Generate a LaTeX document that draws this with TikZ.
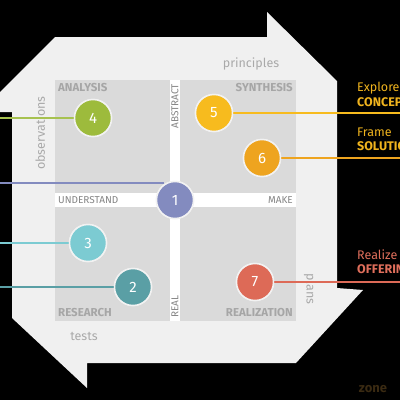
\documentclass[tikz,border=0pt]{standalone}
\usepackage{fontspec}
\setmainfont{Fira Sans}
\definecolor{shapefill}{HTML}{F0F0F0}
\definecolor{boxfill}{HTML}{DADADA}
\definecolor{boxlbl}{HTML}{A6A6A6}
\definecolor{outlbl}{HTML}{A9A9A9}
\definecolor{bandlbl}{HTML}{858585}
\definecolor{cfour}{HTML}{9DBB3C}
\definecolor{cone}{HTML}{838BBF}
\definecolor{cthree}{HTML}{7CCBD2}
\definecolor{ctwo}{HTML}{5A9FA5}
\definecolor{cfive}{HTML}{F7BB1E}
\definecolor{csix}{HTML}{EEA41F}
\definecolor{cseven}{HTML}{DD6A57}
\definecolor{goldtxt}{HTML}{F0B41E}
\definecolor{coraltxt}{HTML}{E06F5C}
\definecolor{zonetxt}{HTML}{3A2A12}
\begin{document}
\begin{tikzpicture}[x=1pt,y=-1pt,
  boxlabel/.style={font=\bfseries\fontsize{11.5}{13}\selectfont, text=boxlbl, inner sep=0},
  bandlabel/.style={font=\fontsize{10}{11}\selectfont, text=bandlbl, inner sep=0},
  outlabel/.style={font=\fontsize{12.5}{14}\selectfont, text=outlbl, inner sep=0},
  num/.style={circle, minimum size=37pt, inner sep=0, draw=white!95!black, line width=1.5pt, text=white, font=\fontsize{15}{15}\selectfont},
  conn/.style={line width=1.4pt},
  sidetxt/.style={anchor=west, inner sep=0, font=\fontsize{12.5}{14}\selectfont},
  sidebold/.style={anchor=west, inner sep=0, font=\bfseries\fontsize{12.5}{14}\selectfont}]
\useasboundingbox (0,0) rectangle (400,400);
\clip (0,0) rectangle (400,400);
\fill[black] (0,0) rectangle (400,400);
% outer cycle shape
\fill[shapefill] (55,37) -- (267,37) -- (267,12) -- (337,81) -- (337,288) -- (363,290)
  -- (296,363) -- (87,363) -- (87,388) -- (12,318) -- (12,112) -- (0,112) -- (0,92) -- cycle;
% quadrants
\fill[boxfill] (55,80) rectangle (170,193);
\fill[boxfill] (180,80) rectangle (296,193);
\fill[boxfill] (55,207) rectangle (170,321);
\fill[boxfill] (180,207) rectangle (296,321);
\fill[white] (170,80) rectangle (180,321);
\fill[white] (55,193) rectangle (296,207);
% quadrant labels
\node[boxlabel, anchor=west] (analysis) at (58,88) {ANALYSIS};
\node[boxlabel, anchor=east] (synthesis) at (293,88) {SYNTHESIS};
\node[boxlabel, anchor=west] (research) at (58,313) {RESEARCH};
\node[boxlabel, anchor=east] (realization) at (293,313) {REALIZATION};
% band labels
\node[bandlabel, anchor=west] (understand) at (58,200) {UNDERSTAND};
\node[bandlabel, anchor=east] (make) at (293,200) {MAKE};
\node[bandlabel, rotate=90, anchor=east] (abstract) at (175,84) {ABSTRACT};
\node[bandlabel, rotate=90, anchor=west] (real) at (175,318) {REAL};
% outer labels
\node[outlabel] (principles) at (251,64) {principles};
\node[outlabel] (tests) at (84,336) {tests};
\node[outlabel, rotate=90] (observations) at (40,133) {observations};
\node[outlabel, rotate=-90] (plans) at (310,289) {plans};
% circle positions
\coordinate (p4) at (93,118);
\coordinate (p1) at (175,200);
\coordinate (p3) at (88,243);
\coordinate (p2) at (133,287);
\coordinate (p5) at (214,113);
\coordinate (p6) at (262,158);
\coordinate (p7) at (255,282);
\node[num, fill=cfour] (c4) at (p4) {4};
\node[num, fill=cone] (c1) at (p1) {1};
\node[num, fill=cthree] (c3) at (p3) {3};
\node[num, fill=ctwo] (c2) at (p2) {2};
\node[num, fill=cfive] (c5) at (p5) {5};
\node[num, fill=csix] (c6) at (p6) {6};
\node[num, fill=cseven] (c7) at (p7) {7};
% connector ends
\coordinate (l4) at (0,118);
\coordinate (l1) at (0,183);
\coordinate (l3) at (0,243);
\coordinate (l2) at (0,287);
\coordinate (r5) at (400,113);
\coordinate (r6) at (400,158);
\coordinate (r7) at (400,282);
\draw[conn, cfour!90!white] (l4) -- (c4);
\draw[conn, cone] (l1) -- (l1 -| c1.125);
\draw[conn, cthree] (l3) -- (c3);
\draw[conn, ctwo] (l2) -- (c2);
\draw[conn, cfive] (c5) -- (r5);
\draw[conn, csix] (c6) -- (r6);
\draw[conn, cseven] (c7) -- (r7);
% circles again on top of lines
\node[num, fill=cfour] at (p4) {4};
\node[num, fill=cone] at (p1) {1};
\node[num, fill=cthree] at (p3) {3};
\node[num, fill=ctwo] at (p2) {2};
\node[num, fill=cfive] at (p5) {5};
\node[num, fill=csix] at (p6) {6};
\node[num, fill=cseven] at (p7) {7};
% right labels
\node[sidetxt, text=goldtxt] (explore) at (357,88) {Explore};
\node[sidebold, text=goldtxt] (concepts) at (357,102) {CONCEPTS};
\node[sidetxt, text=goldtxt] (frame) at (357,132) {Frame};
\node[sidebold, text=goldtxt] (solutions) at (357,146) {SOLUTIONS};
\node[sidetxt, text=coraltxt] (realize) at (357,255) {Realize};
\node[sidebold, text=coraltxt] (offerings) at (357,269) {OFFERINGS};
\node[inner sep=0, text=zonetxt, font=\bfseries\fontsize{13}{14}\selectfont] (zone) at (373,389) {zone};
\end{tikzpicture}
\end{document}
